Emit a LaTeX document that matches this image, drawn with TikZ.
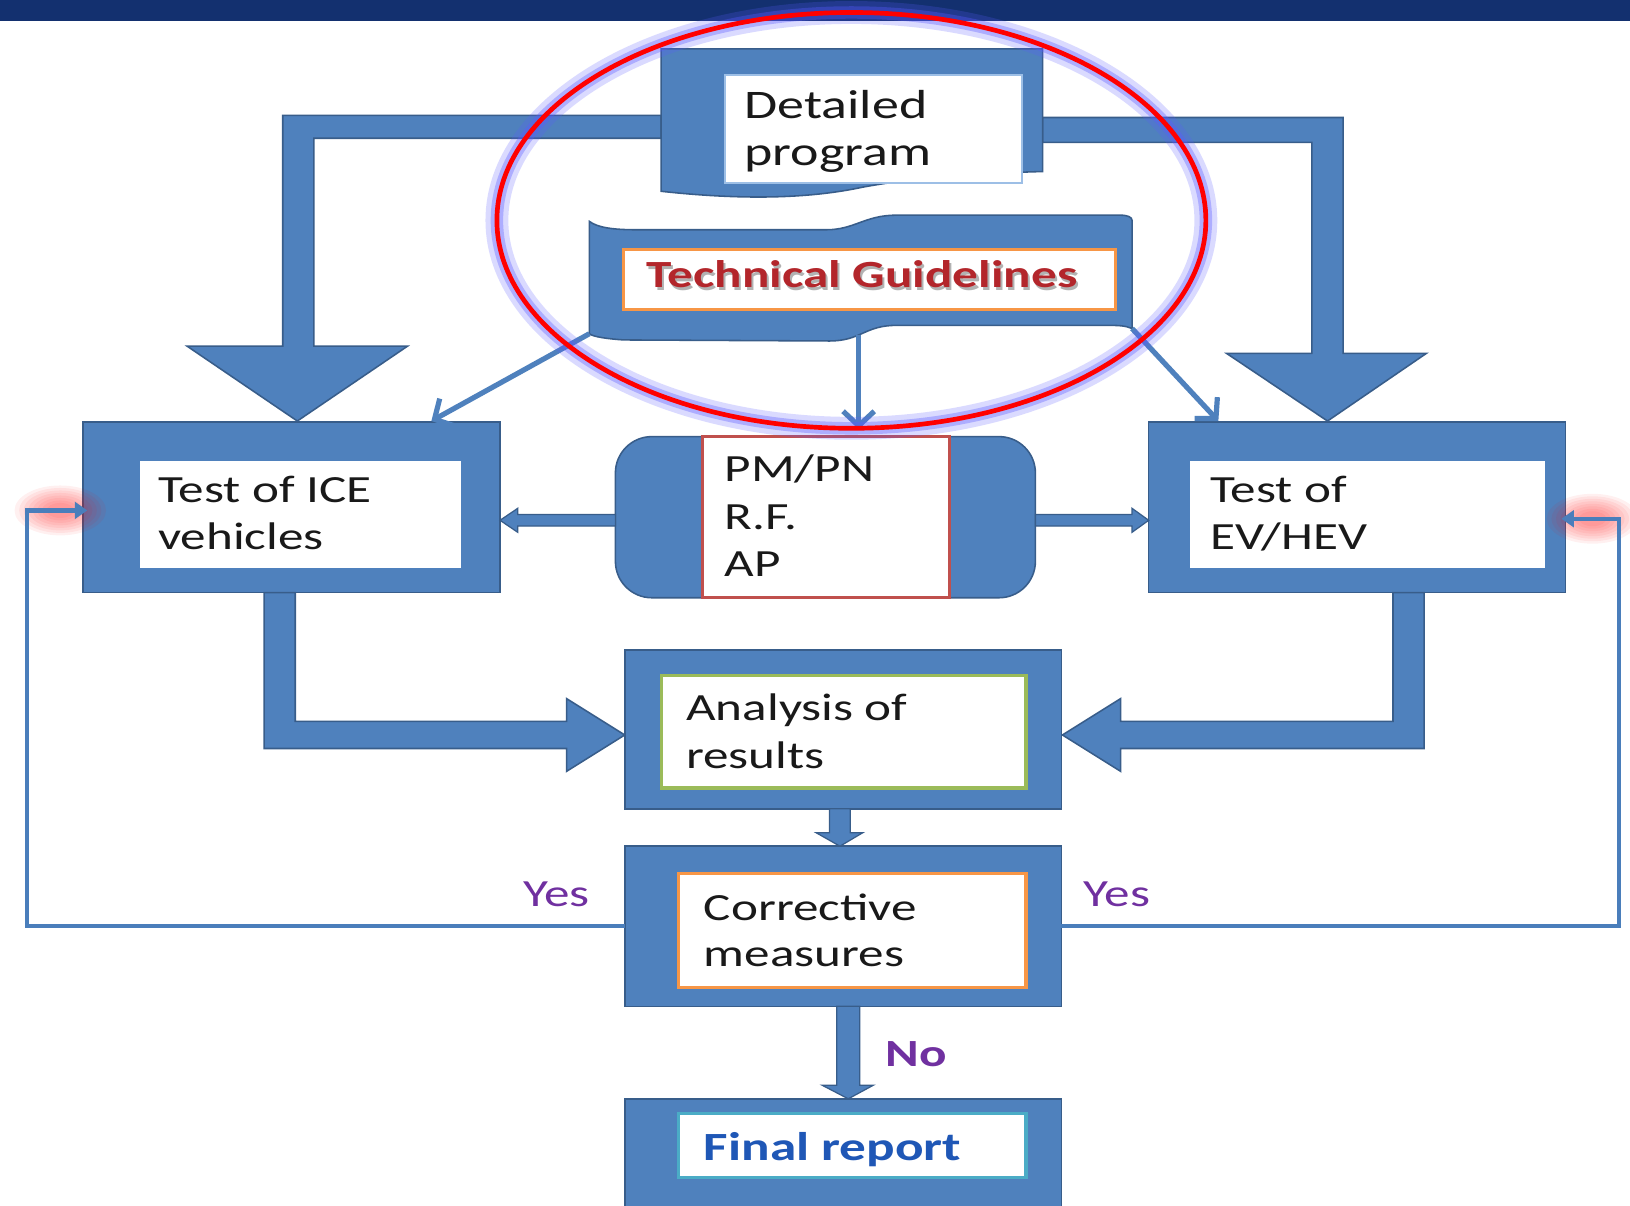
\documentclass[tikz,border=0pt]{standalone}
\usepackage{fontspec}
\setmainfont{Carlito}[FakeStretch=1.33]
\usetikzlibrary{arrows.meta,calc}
\definecolor{fillb}{HTML}{4F81BD}
\definecolor{edgeb}{HTML}{385D8A}
\definecolor{navy}{HTML}{13306F}
\definecolor{orng}{HTML}{F79646}
\definecolor{grn}{HTML}{9BBB59}
\definecolor{cyn}{HTML}{4BACC6}
\definecolor{redbox}{HTML}{C0504D}
\definecolor{purp}{HTML}{7030A0}
\definecolor{tgred}{HTML}{B3262B}
\definecolor{finblue}{HTML}{1F57B6}
\definecolor{dpline}{HTML}{9DBFE6}
\definecolor{fbline}{HTML}{4A7EBB}
\definecolor{glowc}{HTML}{5A5AFF}
\begin{document}
\begin{tikzpicture}[x=1pt,y=-1pt,
  blk/.style={fill=fillb, draw=edgeb, line width=1.5pt, line join=miter},
  outerbox/.style={blk, inner sep=0, outer sep=0},
  innerbox/.style={fill=white, inner sep=0, outer sep=0, line width=3pt},
  txt/.style={anchor=base west, inner sep=0, text=black!90, font=\fontsize{37}{46}\selectfont},
  lbl/.style={anchor=base west, inner sep=0, text=purp, font=\fontsize{37}{46}\selectfont},
  tgarrow/.style={draw=fillb, line width=5pt, -{Straight Barb[length=14pt,width=30pt]}},
  fbarrow/.style={draw=fbline, line width=4pt, -{Triangle[length=12pt,width=16pt]}},
  glowspot/.style={fill=red, opacity=0.06}
]
\useasboundingbox (0,0) rectangle (1568,1160);
\fill[white] (0,0) rectangle (1568,1160);
\fill[navy] (0,0) rectangle (1568,20);

% thick arrows from the detailed program
\draw[blk] (636,111) -- (272,111) -- (272,333) -- (180,333) -- (286,405) -- (392,333) -- (302,333) -- (302,133) -- (636,133) -- cycle;
\draw[blk] (1003,113) -- (1292,113) -- (1292,340) -- (1372,340) -- (1277,405) -- (1180,340) -- (1262,340) -- (1262,137) -- (1003,137) -- cycle;

% detailed program
\draw[blk] (636,47) -- (1003,47) -- (1003,165) .. controls (930,167) and (880,171) .. (830,180) .. controls (770,193) and (700,191) .. (636,184) -- cycle;
\node[innerbox, draw=dpline, line width=2pt, minimum width=286, minimum height=104] (dp) at (840,124) {};

% technical guidelines
\draw[blk] (567,213) .. controls (575,219) and (590,221) .. (612,221) -- (795,221) .. controls (822,221) and (832,207) .. (862,207) -- (1078,207) .. controls (1085,207) and (1089,209) .. (1089,212) -- (1089,316) .. controls (1082,313) and (1075,313) .. (1065,313) -- (862,313) .. controls (832,313) and (828,328) .. (798,328) -- (600,327) .. controls (585,326) and (570,324) .. (567,321) -- cycle;
\coordinate (tgBL) at (567,321);
\coordinate (tgBR) at (1089,316);
\coordinate (tgB) at (826,322);
\node[innerbox, draw=orng, minimum width=473, minimum height=58] (tg) at (836.5,269) {};

% side boxes
\node[outerbox, minimum width=401, minimum height=164] (ice) at (280.5,488) {};
\node[innerbox, minimum width=308, minimum height=103] (icein) at (289,494.5) {};
\node[outerbox, minimum width=401, minimum height=164] (ev) at (1305.5,488) {};
\node[innerbox, minimum width=341, minimum height=103] (evin) at (1315.5,494.5) {};

% centre box
\node[outerbox, rounded corners=35pt, minimum width=404, minimum height=155] (pm) at (794,497.5) {};
\node[innerbox, draw=redbox, minimum width=237, minimum height=155] (pmin) at (794.5,497.5) {};

% thin block arrows from centre
\draw[blk, line width=1.2pt] (pm.west |- 0,495) -- (498,495) -- (498,489) -- (ice.east |- 0,500.5) -- (498,512) -- (498,506) -- (pm.west |- 0,506) -- cycle;
\draw[blk, line width=1.2pt] (pm.east |- 0,495) -- (1089,495) -- (1089,489) -- (ev.west |- 0,500.5) -- (1089,512) -- (1089,506) -- (pm.east |- 0,506) -- cycle;

% thick arrows into analysis
\draw[blk] (254,570) -- (254,720) -- (545,720) -- (545,742) -- (601,707) -- (545,672) -- (545,694) -- (284,694) -- (284,570) -- cycle;
\draw[blk] (1370,570) -- (1370,720) -- (1078,720) -- (1078,742) -- (1022,707) -- (1078,672) -- (1078,694) -- (1340,694) -- (1340,570) -- cycle;

% analysis, corrective, final
\node[outerbox, minimum width=420, minimum height=153] (an) at (811,701.5) {};
\node[innerbox, draw=grn, minimum width=351, minimum height=108] (anin) at (811.5,704) {};
\node[outerbox, minimum width=420, minimum height=154] (cm) at (811,891) {};
\node[innerbox, draw=orng, minimum width=334, minimum height=110] (cmin) at (820,895) {};
\node[outerbox, minimum width=420, minimum height=118] (fr) at (811,1116) {};
\node[innerbox, draw=cyn, minimum width=334, minimum height=62] (frin) at (820,1102) {};

% small down arrows
\draw[blk, line width=1.2pt] (798,778) -- (798,801) -- (785,801) -- (808,814) -- (830,801) -- (818,801) -- (818,778) -- cycle;
\draw[blk, line width=1.2pt] (805,968) -- (805,1044) -- (791,1044) -- (816,1057) -- (840,1044) -- (827,1044) -- (827,968) -- cycle;

% texts
\node[txt, font=\fontsize{39}{45}\selectfont] (tdp) at (716,114) {\begin{tabular}[t]{@{}l@{}}Detailed\\program\end{tabular}};
\node[anchor=base west, inner sep=0, text=black!30, font=\bfseries\fontsize{37}{40}\selectfont] at (624,279.5) {Technical Guidelines};
\node[anchor=base west, inner sep=0, text=tgred, font=\bfseries\fontsize{37}{40}\selectfont] (ttg) at (622,277) {Technical Guidelines};
\node[txt] (tice) at (152,483) {\begin{tabular}[t]{@{}l@{}}Test of ICE\\vehicles\end{tabular}};
\node[txt] (tev) at (1164,483) {\begin{tabular}[t]{@{}l@{}}Test of\\EV/HEV\end{tabular}};
\node[txt] (tpm) at (697,463) {\begin{tabular}[t]{@{}l@{}}PM/PN\\R.F.\\AP\end{tabular}};
\node[txt] (tan) at (660,693) {\begin{tabular}[t]{@{}l@{}}Analysis of\\results\end{tabular}};
\node[txt, font=\fontsize{37}{45}\selectfont] (tcm) at (677,885) {\begin{tabular}[t]{@{}l@{}}Corrective\\measures\end{tabular}};
\node[anchor=base west, inner sep=0, text=finblue, font=\bfseries\fontsize{38.5}{44}\selectfont] (tfr) at (677,1116) {Final report};
\node[lbl] (yesl) at (503,872) {Yes};
\node[lbl] (yesr) at (1042,872) {Yes};
\node[lbl, font=\bfseries\fontsize{37}{44}\selectfont] (no) at (852,1026) {No};

% thin arrows from technical guidelines
\draw[tgarrow] (tgBL) -- (415,405);
\draw[tgarrow] (tgB) -- (826,413);
\draw[tgarrow] (tgBR) -- (1172,405);

% feedback loops
\foreach \r in {1,0.9,...,0.2} {
  \fill[glowspot] (58,491) ellipse [x radius=44*\r, y radius=24*\r];
  \fill[glowspot] (1532,499) ellipse [x radius=44*\r, y radius=24*\r];
}
\draw[fbarrow] (cm.west) -| (26,491) -- ($(ice.west)+(4,3)$);
\draw[fbarrow] (cm.east) -| (1557,499) -- ($(ev.east)+(-4,11)$);

% highlight ellipse
\draw[line width=22pt, glowc, opacity=0.22] (819,212) ellipse [x radius=341, y radius=200];
\draw[line width=12pt, glowc, opacity=0.35] (819,212) ellipse [x radius=341, y radius=200];
\draw[line width=4.5pt, red] (819,212) ellipse [x radius=341, y radius=200];
\end{tikzpicture}
\end{document}
